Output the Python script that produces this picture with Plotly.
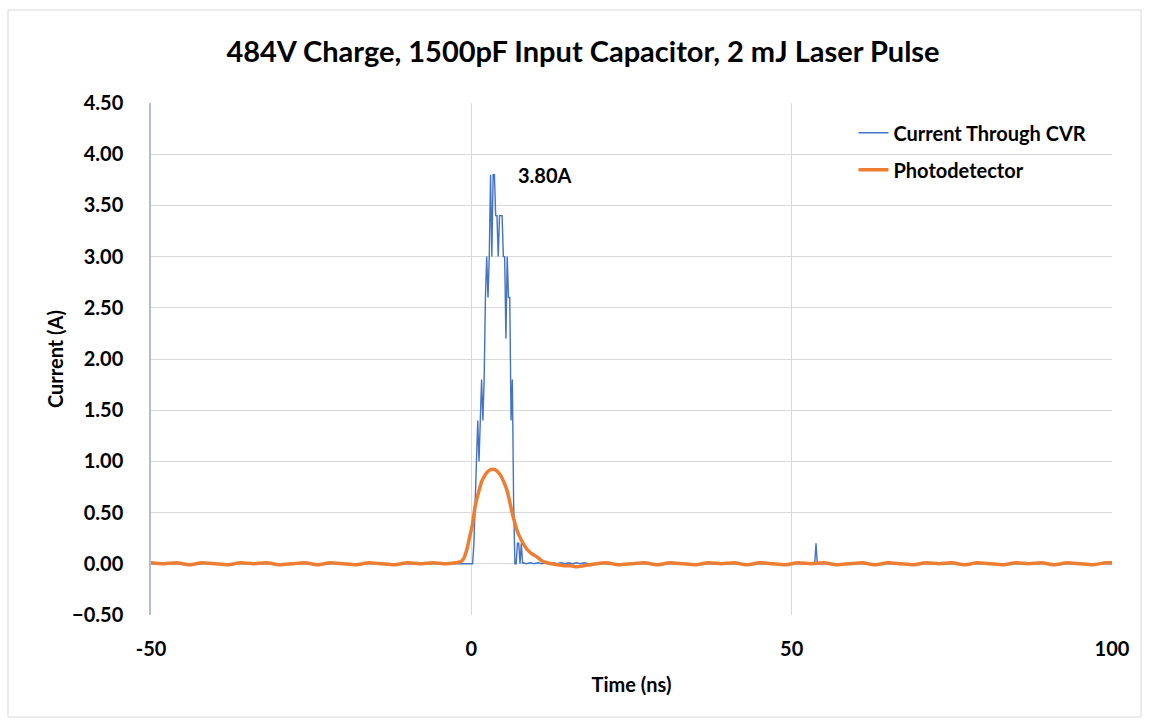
import plotly.graph_objects as go

# ---------------- data ----------------
blue_t = [-50.0, -20.0, -0.2, 0.0, 0.2, 0.4, 0.6, 0.8, 1.0, 1.2, 1.4, 1.6, 1.8, 2.0, 2.2, 2.4, 2.6, 2.8,
          3.0, 3.2, 3.4, 3.6, 3.8, 4.0, 4.2, 4.4, 4.6, 4.8, 5.0, 5.2, 5.4, 5.6, 5.8, 6.0, 6.2, 6.4,
          6.6, 6.8, 7.0, 7.2, 7.4, 7.6, 7.8, 8.0, 8.2, 8.6, 9.2, 9.8, 10.4, 11.0, 11.6, 12.2, 12.8,
          13.4, 14.0, 14.6, 15.2, 15.8, 16.4, 17.0, 17.6, 18.2, 19.0, 30.0, 53.6, 53.8, 54.0, 100.0]
blue_v = [0.00, 0.00, 0.00, 0.00, 0.00, 0.20, 0.60, 1.00, 1.40, 1.00, 1.40, 1.80, 1.40, 1.80, 2.60, 3.00, 2.60, 3.00,
          3.80, 3.00, 3.80, 3.80, 3.40, 3.40, 3.00, 3.40, 3.40, 3.40, 3.00, 3.00, 2.20, 3.00, 2.60, 2.60, 1.40, 1.80,
          0.60, 0.00, 0.00, 0.20, 0.20, 0.00, 0.20, 0.00, 0.01, 0.00, 0.01, 0.00, 0.01, 0.00, 0.01, 0.00, 0.01,
          0.00, 0.01, 0.00, 0.01, 0.00, 0.01, 0.00, 0.01, 0.00, 0.00, 0.00, 0.00, 0.20, 0.00, 0.00]

orange_t = [-50, -48, -46, -44, -42, -40, -38, -36, -34, -32, -30, -28, -26, -24, -22, -20, -18, -16,
            -14, -12, -10, -8, -6, -4, -2.5, -1.7, -1.2, -0.7, -0.2, 0.1, 0.6, 1.1, 1.6, 1.9, 2.4,
            3.0, 3.7, 4.5, 5.0, 5.6, 6.3, 7.1, 7.9, 8.7, 9.4, 10.2, 11.0, 11.8, 12.5, 13.5, 14.5,
            15.5, 16.5, 17.5, 18.5, 19.5, 21, 23, 25, 27, 29, 31, 33, 35, 37, 39, 41, 43, 45, 47,
            49, 51, 53, 55, 57, 59, 61, 63, 65, 67, 69, 71, 73, 75, 77, 79, 81, 83, 85, 87, 89,
            91, 93, 95, 97, 99, 100]
orange_v = [0.01, 0.00, 0.01, -0.01, 0.01, 0.00, -0.01, 0.01, 0.00, 0.01, -0.01, 0.00, 0.01, -0.01, 0.01, 0.00, -0.01, 0.01,
            0.00, -0.01, 0.01, 0.00, 0.01, 0.00, 0.01, 0.02, 0.05, 0.14, 0.28, 0.36, 0.56, 0.69, 0.80, 0.84, 0.89,
            0.92, 0.92, 0.87, 0.81, 0.71, 0.52, 0.33, 0.22, 0.14, 0.10, 0.07, 0.03, 0.01, 0.00, -0.01, -0.02,
            -0.02, -0.03, -0.02, -0.01, 0.00, 0.01, -0.01, 0.00, 0.01, -0.01, 0.01, 0.00, -0.01, 0.01, 0.00, 0.01, -0.01, 0.01, 0.00,
            -0.01, 0.01, 0.00, 0.01, -0.01, 0.00, 0.01, -0.01, 0.01, 0.00, -0.01, 0.01, 0.00, 0.01, -0.01, 0.01, 0.00, -0.01, 0.01, 0.00, 0.01,
            -0.01, 0.01, 0.00, -0.01, 0.01, 0.01]

x_major = [-50, 0, 50, 100]
x_minor = [-45, -40, -35, -30, -25, -20, -15, -10, -5, 5, 10, 15, 20, 25, 30, 35, 40, 45,
           55, 60, 65, 70, 75, 80, 85, 90, 95]

title_text = "484V Charge, 1500pF Input Capacitor, 2 mJ Laser Pulse"
series_names = ["Current Through CVR", "Photodetector"]
peak_label = "3.80A"
peak_t, peak_v = 3.4, 3.8

# ---------------- figure ----------------
FONT = "Lato"
TXT = 20
fig = go.Figure()
fig.add_trace(go.Scatter(x=blue_t, y=blue_v, mode="lines", name="<b>" + series_names[0] + "</b>",
                         legendgroup="a", line=dict(color="#4472C4", width=1.4)))
fig.add_trace(go.Scatter(x=orange_t, y=orange_v, mode="lines", name="<b>" + series_names[1] + "</b>",
                         legendgroup="b", line=dict(color="#ED7D31", width=3.5, shape="spline", smoothing=0.6)))

grid = "#D9D9D9"
fig.update_layout(
    width=1149, height=726, autosize=False,
    margin=dict(l=151, r=37, t=103, b=111),
    paper_bgcolor="white", plot_bgcolor="white",
    font=dict(family=FONT, color="#000000"),
    title=dict(text="<b>" + title_text + "</b>", x=583 / 1149, xanchor="center", xref="container",
               y=1 - 52 / 726, yanchor="middle", font=dict(size=29, family=FONT, color="#000")),
    showlegend=True,
    legend=dict(x=0.731, y=0.98, xanchor="left", yanchor="top", bgcolor="rgba(0,0,0,0)",
                font=dict(size=TXT, family=FONT), tracegroupgap=8),
    xaxis=dict(range=[-50, 100], tickvals=x_major, ticktext=["<b>%d</b>" % v for v in x_major],
               showgrid=True, gridcolor=grid, gridwidth=1, zeroline=False, showline=False,
               ticks="", tickfont=dict(size=TXT, family=FONT), ticklabelstandoff=20,
               title=dict(text="<b>Time (ns)</b>", font=dict(size=TXT, family=FONT), standoff=18)),
    xaxis2=dict(range=[-50, 100], overlaying="x", anchor="free", position=0.1, side="bottom",
                tickvals=x_minor, showticklabels=False, ticks="outside", ticklen=4,
                tickcolor=grid, showgrid=False, zeroline=False, showline=False),
    xaxis3=dict(range=[-50, 100], overlaying="x", anchor="free", position=0.1, side="bottom",
                tickvals=x_minor, showticklabels=False, ticks="inside", ticklen=4,
                tickcolor=grid, showgrid=False, zeroline=False, showline=False),
    yaxis=dict(range=[-0.5, 4.5], dtick=0.5, tick0=0, tickformat=".2f",
               tickprefix="<b>", ticksuffix="</b>",
               showgrid=True, gridcolor=grid, gridwidth=1, zeroline=False,
               showline=True, linecolor="#B4BDD0", linewidth=1.5, ticks="",
               tickfont=dict(size=TXT, family=FONT), ticklabelstandoff=22,
               title=dict(text="<b>Current (A)</b>", font=dict(size=TXT, family=FONT), standoff=3)),
)

fig.add_annotation(x=peak_t, y=peak_v, text="<b>" + peak_label + "</b>", showarrow=False,
                   xanchor="left", yanchor="middle", xshift=23,
                   font=dict(size=TXT, family=FONT, color="#000"))

# outer chart border
fig.add_shape(type="rect", xref="paper", yref="paper",
              x0=-0.1488, x1=1.0302, y0=-0.1992, y1=1.1816,
              line=dict(color=grid, width=1), layer="below")

fig.write_html("out.html")
